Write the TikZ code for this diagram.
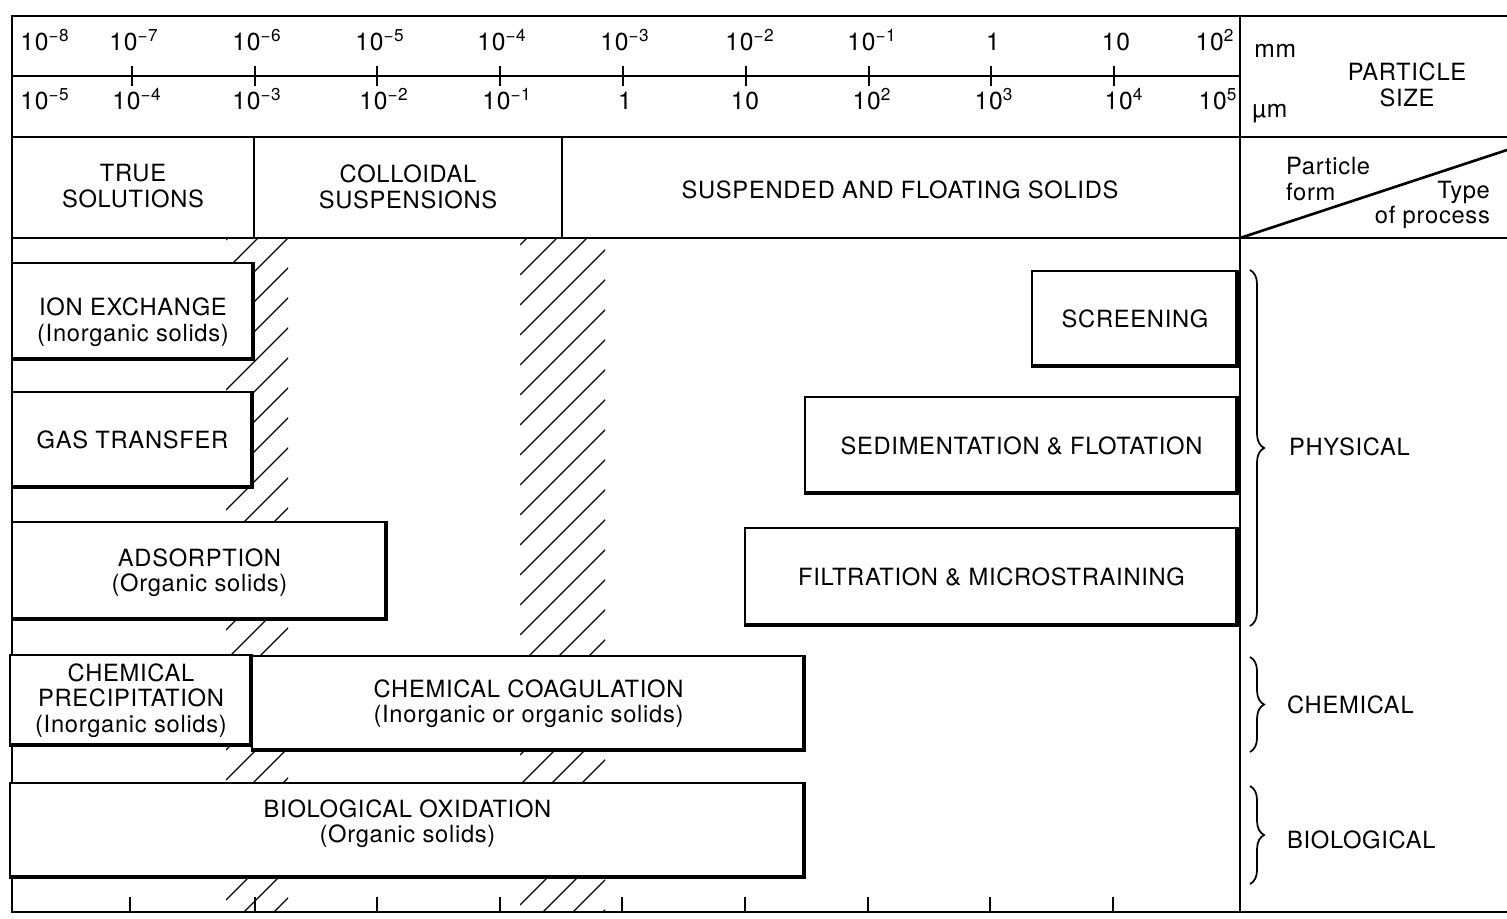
\documentclass[tikz,border=0pt]{standalone}
\usepackage{fontspec}
\setmainfont[LetterSpace=3]{TeX Gyre Heros}
\usetikzlibrary{positioning, fit, decorations.pathreplacing}

\newcommand{\tenp}[1]{10\textsuperscript{#1}}

\begin{document}
\begin{tikzpicture}[x=0.02cm, y=-0.02cm,
    procbox/.style={draw, fill=white, line width=1.3pt, inner sep=0pt,
        path picture={\draw[line width=3.8pt] (path picture bounding box.north east)
            -- (path picture bounding box.south east) -- (path picture bounding box.south west);}},
    boxtext/.style={align=center, inner sep=0pt, font=\fontsize{13.5}{14.5}\selectfont},
    sizelbl/.style={anchor=base, inner sep=0pt, font=\fontsize{14}{15}\selectfont},
    plainlbl/.style={align=center, inner sep=1pt, font=\fontsize{13.5}{14.5}\selectfont},
    hatch/.style={line width=0.7pt},
    frame/.style={line width=1.5pt}]
    \useasboundingbox (0,0) rectangle (1507,919);

    % Hatched bands (under the boxes)
    \begin{scope}
        \clip (226,238) rectangle (288,912);
        \foreach \k in {0,...,25}
            \draw[hatch] (226,240+30*\k) -- ++(110,-110);
    \end{scope}
    \begin{scope}
        \clip (520,238) rectangle (605,912);
        \foreach \k in {0,...,25}
            \draw[hatch] (520,245+30*\k) -- ++(110,-110);
    \end{scope}

    % Frame
    \draw[frame] (1507,16) -- (12,16) -- (12,912) -- (1507,912);
    \draw[frame] (1240,16) -- (1240,912);
    \draw[frame] (12,137) -- (1507,137);
    \draw[frame] (12,238) -- (1507,238);

    % Particle size scale
    \draw[frame] (12,76) -- (1240,76);
    \foreach \x in {132,255,377,500,623,746,869,991,1114}
        \draw[frame] (\x,66) -- (\x,86);
    \foreach \x/\lbl [count=\i] in {45/\tenp{−8}, 134/\tenp{−7}, 257/\tenp{−6}, 380/\tenp{−5},
            502/\tenp{−4}, 625/\tenp{−3}, 750/\tenp{−2}, 872/\tenp{−1}, 993/1, 1116/10, 1215/\tenp{2}}
        \node[sizelbl] (mm\i) at (\x,51) {\lbl};
    \foreach \x/\lbl [count=\i] in {45/\tenp{−5}, 137/\tenp{−4}, 257/\tenp{−3}, 384/\tenp{−2},
            507/\tenp{−1}, 625/1, 745/10, 872/\tenp{2}, 994/\tenp{3}, 1124/\tenp{4}, 1218/\tenp{5}}
        \node[sizelbl] (um\i) at (\x,110) {\lbl};
    \node[sizelbl, anchor=base west] (mmunit) at (1254,58) {mm};
    \node[sizelbl, anchor=base west] (umunit) at (1252,117) {µm};
    \node[plainlbl] (psize) at (1407,85) {PARTICLE\\SIZE};

    % Particle form
    \draw[frame] (254,137) -- (254,238);
    \draw[frame] (562,137) -- (562,238);
    \node[plainlbl] (truesol) at (133,186) {TRUE\\SOLUTIONS};
    \node[plainlbl] (colloid) at (408,187) {COLLOIDAL\\SUSPENSIONS};
    \node[plainlbl] (suspend) at (900,190) {SUSPENDED AND FLOATING SOLIDS};
    \draw[frame] (1240,238) -- (1507,150);
    \node[plainlbl, align=left, anchor=west] (pform) at (1284,179) {Particle\\form};
    \node[plainlbl, align=right, anchor=east] (ptype) at (1492,205) {Type\\of process};

    % Processes
    \node[procbox, fit={(12,263) (254,360)}] (ionex) {};
    \node[procbox, fit={(12,392) (253,488)}] (gastr) {};
    \node[procbox, fit={(12,522) (387,620)}] (adsorp) {};
    \node[procbox, fit={(1032,271) (1238,367)}] (screen) {};
    \node[procbox, fit={(805,397) (1238,494)}] (sedim) {};
    \node[procbox, fit={(745,528) (1238,626)}] (filtr) {};
    \node[procbox, fit={(10,655) (252,746)}] (precip) {};
    \node[procbox, fit={(252,656) (805,751)}] (coag) {};
    \node[procbox, fit={(10,783) (805,878)}] (biox) {};

    \node[boxtext] (ionext) at ([yshift=-6]ionex) {ION EXCHANGE\\(Inorganic solids)};
    \node[boxtext] (gastrt) at (gastr) {GAS TRANSFER};
    \node[boxtext] (adsorpt) at ([yshift=-1]adsorp) {ADSORPTION\\(Organic solids)};
    \node[boxtext] (screent) at (screen) {SCREENING};
    \node[boxtext] (sedimt) at (sedim) {SEDIMENTATION \& FLOTATION};
    \node[boxtext] (filtrt) at (filtr) {FILTRATION \& MICROSTRAINING};
    \node[boxtext] (precipt) at (precip) {CHEMICAL\\PRECIPITATION\\(Inorganic solids)};
    \node[boxtext] (coagt) at (coag) {CHEMICAL COAGULATION\\(Inorganic or organic solids)};
    \node[boxtext] (bioxt) at ([yshift=4]biox) {BIOLOGICAL OXIDATION\\(Organic solids)};

    % Bottom ticks
    \foreach \x in {130,255,377,500,622,745,868,990,1113}
        \draw[frame] (\x,897) -- (\x,912);

    % Type of process
    \draw[line width=1pt, decorate, decoration={brace, amplitude=8pt}] (1250,270) -- (1250,626);
    \draw[line width=1pt, decorate, decoration={brace, amplitude=8pt}] (1250,657) -- (1250,752);
    \draw[line width=1pt, decorate, decoration={brace, amplitude=8pt}] (1250,786) -- (1250,884);
    \node[plainlbl, anchor=west] (phys) at (1287,447) {PHYSICAL};
    \node[plainlbl, anchor=west] (chem) at (1285,705) {CHEMICAL};
    \node[plainlbl, anchor=west] (biol) at (1285,840) {BIOLOGICAL};
\end{tikzpicture}
\end{document}
